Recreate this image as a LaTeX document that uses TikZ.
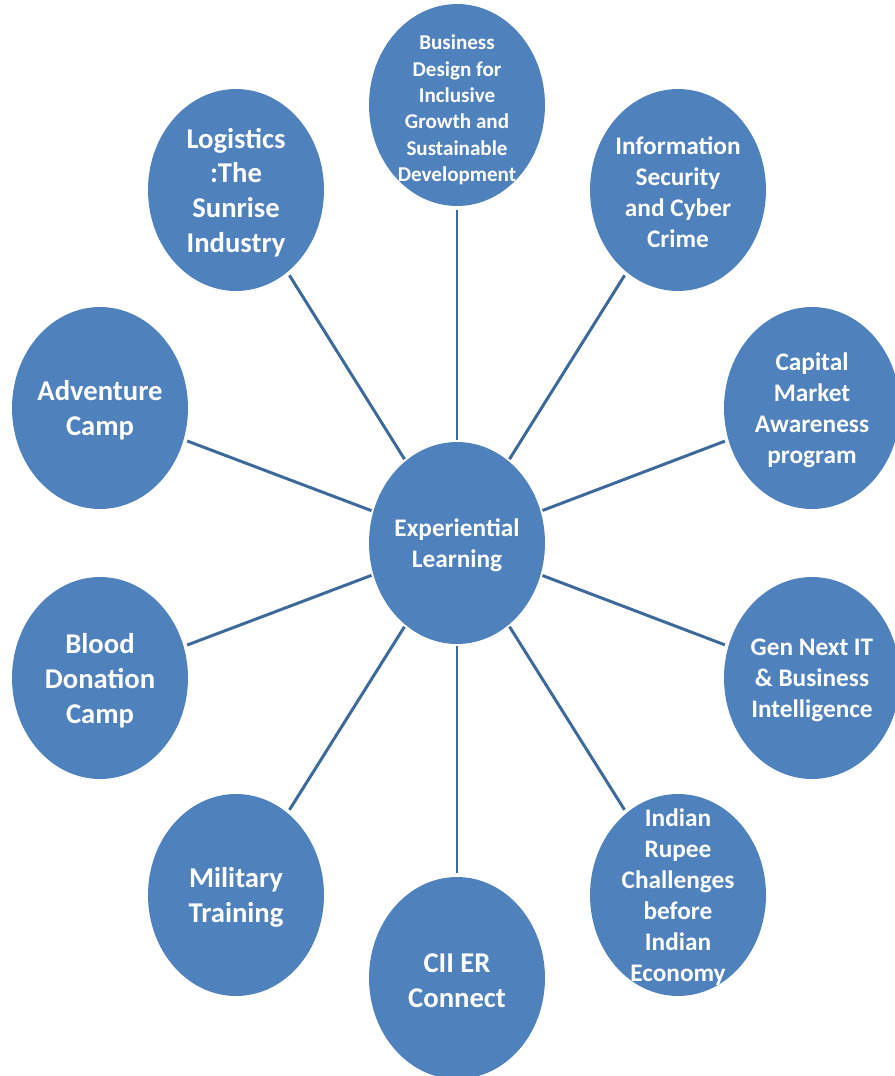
\documentclass[tikz,border=0pt]{standalone}
\usepackage{fontspec}
\setmainfont{Carlito}
\usetikzlibrary{shapes.geometric}

\definecolor{bubblefill}{HTML}{4F81BD}
\definecolor{spokeline}{HTML}{3D6A9A}

\tikzset{
  bubble/.style={ellipse, fill=bubblefill, inner sep=0pt,
                 minimum width=3.52cm, minimum height=4.04cm},
  smalltxt/.style={text=white, align=center, yshift=-2.8pt, font=\bfseries\fontsize{12}{15}\selectfont},
  midtxt/.style={text=white, align=center, yshift=-1.1pt, font=\bfseries\fontsize{14.4}{17.6}\selectfont},
  bigtxt/.style={text=white, align=center, yshift=-1.4pt, font=\bfseries\fontsize{16.3}{19.8}\selectfont},
  spoke/.style={draw=spokeline, line width=1.7pt, shorten <=1pt, shorten >=2pt}
}

\begin{document}
\begin{tikzpicture}[x=0.02cm, y=-0.02cm]
        \useasboundingbox (0,0) rectangle (894,1076);

        % ---- hub ----------------------------------------
        \node[bubble, label={[midtxt]center:{Experiential\\Learning}}] (exp) at (457,543) {};

        % ---- activities round the hub -------------------
        \node[bubble, label={[smalltxt]center:{Business\\Design for\\Inclusive\\Growth and\\Sustainable\\Development}}] (bdes) at (457,105) {};
        \node[bubble, label={[midtxt]center:{Information\\Security\\and Cyber\\Crime}}] (infosec) at (678,190) {};
        \node[bubble, label={[midtxt]center:{Capital\\Market\\Awareness\\program}}] (capmkt) at (812,408) {};
        \node[bubble, label={[midtxt]center:{Gen Next IT\\\& Business\\Intelligence}}] (gennext) at (812,678) {};
        \node[bubble, label={[midtxt]center:{Indian\\Rupee\\Challenges\\before\\Indian\\Economy}}] (rupee) at (678,895) {};
        \node[bubble, label={[bigtxt]center:{CII ER\\Connect}}] (cii) at (457,978) {};
        \node[bubble, label={[bigtxt]center:{Military\\Training}}] (military) at (236,895) {};
        \node[bubble, label={[bigtxt]center:{Blood\\Donation\\Camp}}] (blood) at (100,678) {};
        \node[bubble, label={[bigtxt]center:{Adventure\\Camp}}] (adventure) at (100,408) {};
        \node[bubble, label={[bigtxt]center:{Logistics\\:The\\Sunrise\\Industry}}] (logistics) at (236,190) {};

        % ---- spokes -------------------------------------
        \foreach \n in {bdes,infosec,capmkt,gennext,rupee,cii,military,blood,adventure,logistics}
          \draw[spoke] (exp) -- (\n);
    \end{tikzpicture}
\end{document}
